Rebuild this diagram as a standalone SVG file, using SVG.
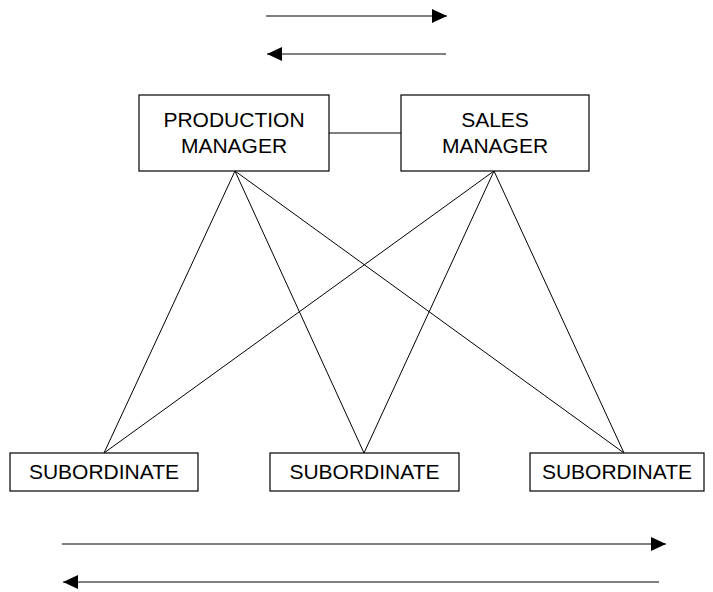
<svg xmlns="http://www.w3.org/2000/svg" width="713" height="592" viewBox="0 0 713 592">
<style>
.box{fill:#fff;stroke:#000;stroke-width:1.2}
.t{font-family:"Liberation Sans",Arial,sans-serif;font-size:21px;fill:#000;text-anchor:middle}
.c{stroke:#000;stroke-width:1;fill:none}
</style>
<defs>
<marker id="ah" viewBox="0 0 15 14" refX="15" refY="7" markerWidth="15" markerHeight="14" markerUnits="userSpaceOnUse" orient="auto">
<path d="M0,0 L15,7 L0,14 Z" fill="#000"/>
</marker>
</defs>
<rect width="713" height="592" fill="#fff"/>
<g id="connectors">
<line class="c" x1="329" y1="133" x2="401" y2="133"/>
<line class="c" x1="235" y1="171" x2="104" y2="453"/>
<line class="c" x1="235" y1="171" x2="364" y2="453"/>
<line class="c" x1="235" y1="171" x2="624" y2="453"/>
<line class="c" x1="494" y1="171" x2="104" y2="453"/>
<line class="c" x1="494" y1="171" x2="364" y2="453"/>
<line class="c" x1="494" y1="171" x2="624" y2="453"/>
<line class="c" x1="266" y1="16" x2="447" y2="16" marker-end="url(#ah)"/>
<line class="c" x1="446" y1="54" x2="267" y2="54" marker-end="url(#ah)"/>
<line class="c" x1="62" y1="544" x2="666" y2="544" marker-end="url(#ah)"/>
<line class="c" x1="659" y1="582" x2="63" y2="582" marker-end="url(#ah)"/>
</g>
<g id="production">
<rect class="box" x="139" y="95" width="190" height="76"/>
<text class="t" x="234" y="126.5">PRODUCTION</text>
<text class="t" x="234" y="152.5">MANAGER</text>
</g>
<g id="sales">
<rect class="box" x="401" y="95" width="188" height="76"/>
<text class="t" x="495" y="126.5">SALES</text>
<text class="t" x="495" y="152.5">MANAGER</text>
</g>
<g id="sub1">
<rect class="box" x="10" y="453" width="188" height="38"/>
<text class="t" x="104" y="479">SUBORDINATE</text>
</g>
<g id="sub2">
<rect class="box" x="270" y="453" width="189" height="38"/>
<text class="t" x="364.5" y="479">SUBORDINATE</text>
</g>
<g id="sub3">
<rect class="box" x="530" y="453" width="174" height="38"/>
<text class="t" x="617" y="479">SUBORDINATE</text>
</g>
</svg>
